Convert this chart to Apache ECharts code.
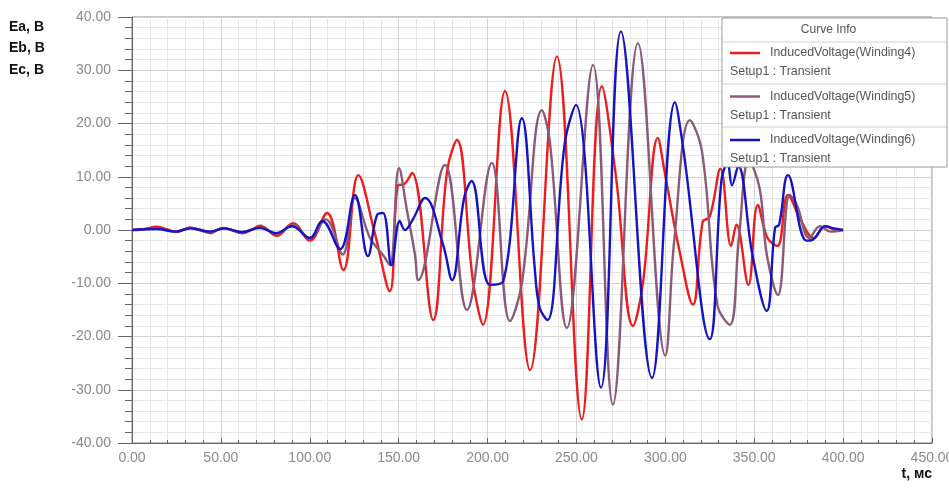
<!DOCTYPE html>
<html><head><meta charset="utf-8">
<script src="https://cdn.jsdelivr.net/npm/echarts@6/dist/echarts.min.js"></script>
<style>html,body{margin:0;padding:0;background:#fff}#c{width:949px;height:489px}</style>
</head><body><div id="c"></div>
<script>
const seriesNames = ['InducedVoltage(Winding4)', 'InducedVoltage(Winding5)', 'InducedVoltage(Winding6)'];
const setupLabel = 'Setup1 : Transient';
const legendTitle = 'Curve Info';
const yTitles = ['Ea, B', 'Eb, B', 'Ec, B'];
const xTitle = 't, мс';

const tRed = [0,6,14,20,25,32.5,38,44,51,56,62,67,72,81.5,90.5,100,109.7,118.9,127.3,136.5,145,149.6,153,157.5,169.4,177.2,182.8,191.8,197.4,209.8,223.9,239,253,264.3,272.3,281.8,287.4,295.8,299.7,308,315.5,321,325,331,337,340,346.7,352,357.5,363,369,376,383.5,390,396,400];
const vRed = [0,0.1,0.6,0.1,-0.4,0.5,0,-0.6,0.4,0,-0.6,0,0.8,-1.1,1.3,-2,3.2,-7.5,10.3,-0.5,-11.5,8.4,8.6,10.7,-16.9,11,16.9,-9.6,-17.8,26.1,-26.3,32.6,-35.6,27,9.8,-18,-10,17.3,10.7,-4,-14,1.5,2.5,11.5,-3,1,-10.3,4.7,-1.5,-3,6.6,2,-1.5,0.7,0,0];

const tPurple = [0,14,25,33,44,51,62,72,81,90.5,100,109,118.5,125.4,133.9,141.2,145,150.2,154.7,159.2,161,176,188.4,202.4,212.6,219.3,230.6,235,244.6,259.3,270.5,284.6,300,305,313.8,320.6,329.2,336.3,341.4,347,353,357.1,363.3,370,374,381,387,393,400];
const vPurple = [0,0.3,-0.3,0.4,-0.4,0.3,-0.4,0.5,-0.7,0.9,-1.5,2,-4.6,6,-1.5,-4.7,-6.6,11.6,3.6,-4.7,-9.4,12.2,-15,12.6,-17.1,-10,22.5,16.7,-18.4,31,-32.8,35.1,-23.6,-2,20.6,14.8,-14,-17.8,-1.5,13,7.9,-4.7,-12.2,6.6,4.7,-1.5,0.7,-0.3,0];

const tBlue = [0,14,24,33,44,52,62,72,81,90,100,107,117,125.4,132.7,137.8,141.2,146,150.6,153.5,158,164.8,175,180,186.8,191,201.3,208.7,219.3,226.5,229.3,233.7,243.3,249.7,263.8,275,292.5,305.4,309.8,325,331.5,335,337.5,341,349,357,361.7,364,369,379.4,383,390,395,400];
const vBlue = [0,0.2,-0.3,0.3,-0.3,0.3,-0.4,0.4,-0.6,0.7,-1.5,1.7,-3.6,6.6,-4.9,2.8,3.2,-6.6,1.7,0,2,6,-2.8,-9.4,6,9.2,-10.3,-9.7,21,-7,-14.6,-16.9,16,23.5,-29.6,37.3,-27.8,24,16,-20.5,9.2,12.5,8.4,12,-4.7,-15.2,0.4,1,10.3,-2,-1.8,0.7,0.3,0];

const colors = ['#ee1c1c', '#8a5a78', '#1414c4'];
const zip = (t, v) => t.map((x, i) => [x, v[i]]);
const data = [zip(tRed, vRed), zip(tPurple, vPurple), zip(tBlue, vBlue)];

const chart = echarts.init(document.getElementById('c'), null, {renderer: 'canvas'});
const fmt = v => v.toFixed(2);
const labelStyle = {color: '#8a8a8a', fontSize: 14, fontFamily: 'Liberation Sans'};

const legendGraphics = [];
const bx = 722, by = 18, bw = 225, bh = 149;
legendGraphics.push({type: 'rect', shape: {x: bx, y: by, width: bw, height: bh}, style: {fill: '#fff', stroke: '#9a9a9a', lineWidth: 1}, z: 100});
legendGraphics.push({type: 'text', x: bx + bw / 2 - 6, y: 30, style: {text: legendTitle, fill: '#555', font: '12px "Liberation Sans"', textAlign: 'center', textVerticalAlign: 'middle'}, z: 101});
const sepY = [42, 84, 127];
sepY.forEach(y => legendGraphics.push({type: 'line', shape: {x1: bx + 1, y1: y, x2: bx + bw - 1, y2: y}, style: {stroke: '#d0d0d0', lineWidth: 1}, z: 101}));
seriesNames.forEach((n, i) => {
  const y0 = 53 + i * 43.5;
  legendGraphics.push({type: 'line', shape: {x1: 730, y1: y0, x2: 760, y2: y0}, style: {stroke: colors[i], lineWidth: 2.5}, z: 101});
  legendGraphics.push({type: 'text', x: 770, y: y0, style: {text: n, fill: '#555', font: '12.4px "Liberation Sans"', textVerticalAlign: 'middle'}, z: 101});
  legendGraphics.push({type: 'text', x: 730, y: y0 + 19, style: {text: setupLabel, fill: '#555', font: '12.4px "Liberation Sans"', textVerticalAlign: 'middle'}, z: 101});
});
yTitles.forEach((t, i) => legendGraphics.push({type: 'text', x: 9, y: 27 + i * 21.5, style: {text: t, fill: '#111', font: 'bold 14px "Liberation Sans"', textVerticalAlign: 'middle'}}));
legendGraphics.push({type: 'text', x: 932, y: 474, style: {text: xTitle, fill: '#111', font: 'bold 14px "Liberation Sans"', textAlign: 'right', textVerticalAlign: 'middle'}});

chart.setOption({
  animation: false,
  backgroundColor: '#fff',
  grid: {left: 132, right: 17, top: 17, bottom: 46, show: true, borderColor: '#888', borderWidth: 1, backgroundColor: 'transparent', containLabel: false, outerBoundsMode: 'none'},
  xAxis: {
    type: 'value', min: 0, max: 450, interval: 50,
    axisLine: {show: true, onZero: false, lineStyle: {color: '#666'}},
    axisTick: {show: true, inside: true, length: 5, lineStyle: {color: '#666'}},
    minorTick: {show: true, splitNumber: 5, length: 3, lineStyle: {color: '#666'}},
    splitLine: {show: true, lineStyle: {color: '#d2d2d2'}},
    minorSplitLine: {show: true, lineStyle: {color: '#e6e6e6'}},
    axisLabel: Object.assign({formatter: fmt, margin: 8}, labelStyle)
  },
  yAxis: {
    type: 'value', min: -40, max: 40, interval: 10,
    axisLine: {show: true, onZero: false, lineStyle: {color: '#666'}},
    axisTick: {show: true, inside: false, length: 14, lineStyle: {color: '#666'}},
    minorTick: {show: true, splitNumber: 5, length: 7, lineStyle: {color: '#666'}},
    splitLine: {show: true, lineStyle: {color: '#d2d2d2'}},
    minorSplitLine: {show: true, lineStyle: {color: '#e6e6e6'}},
    axisLabel: Object.assign({formatter: fmt, margin: 21}, labelStyle)
  },
  series: data.map((d, i) => ({
    name: seriesNames[i], type: 'line', data: d, smooth: 0.4, symbol: 'none',
    lineStyle: {color: colors[i], width: 2.4}, itemStyle: {color: colors[i]}, z: 2 + (i === 2 ? 1 : 0)
  })),
  graphic: legendGraphics
});
</script></body></html>
